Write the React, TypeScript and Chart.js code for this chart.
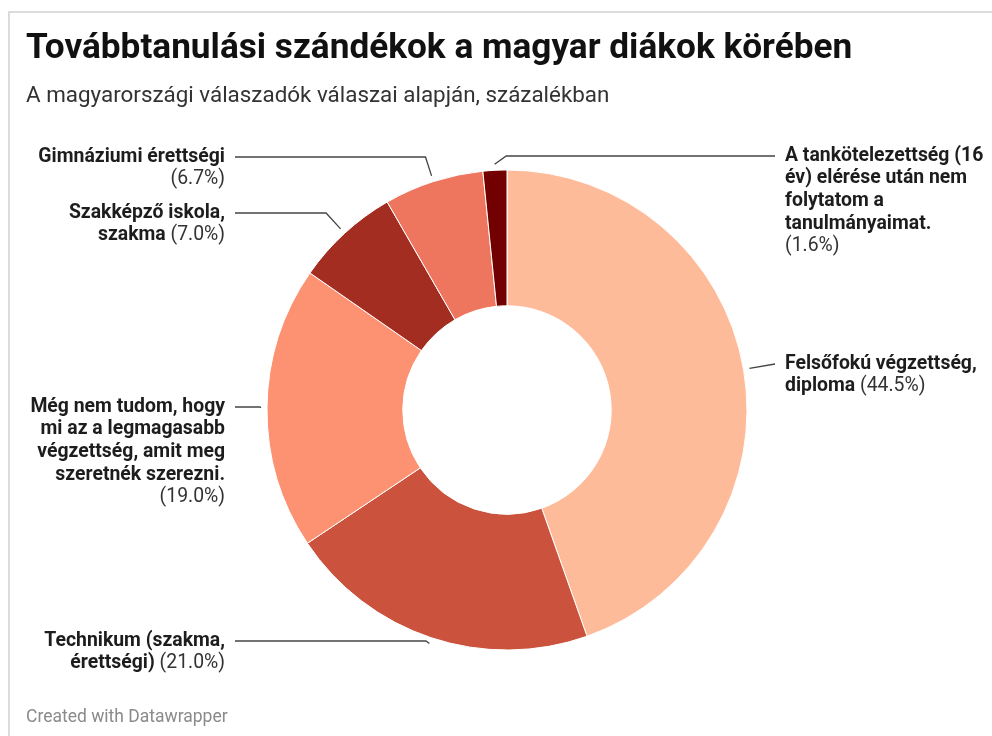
import React, { useEffect, useRef } from "react";
import { Chart, registerables } from "chart.js";

Chart.register(...registerables);

const categories = [
  "Felsőfokú végzettség, diploma",
  "Technikum (szakma, érettségi)",
  "Még nem tudom, hogy mi az a legmagasabb végzettség, amit meg szeretnék szerezni.",
  "Szakképző iskola, szakma",
  "Gimnáziumi érettségi",
  "A tankötelezettség (16 év) elérése után nem folytatom a tanulmányaimat.",
];
const values = [44.5, 21.0, 19.0, 7.0, 6.7, 1.6];
const colors = ["#febb9a", "#cb523d", "#fc9272", "#a32d20", "#ef765e", "#730000"];
// wrapped label lines (text only)
const labelLines = [
  ["Felsőfokú végzettség,", "diploma"],
  ["Technikum (szakma,", "érettségi)"],
  ["Még nem tudom, hogy", "mi az a legmagasabb", "végzettség, amit meg", "szeretnék szerezni."],
  ["Szakképző iskola,", "szakma"],
  ["Gimnáziumi érettségi"],
  ["A tankötelezettség (16", "év) elérése után nem", "folytatom a", "tanulmányaimat."],
];
const pctInline = [true, true, false, true, false, false];

// layout (positions)
const LABEL_SIDE = [1, -1, -1, -1, -1, 1];
const LABEL_Y = [364, 641, 407, 213, 157, 156];
const LEFT_TEXT_X = 225;
const RIGHT_TEXT_X = 785;
const LINE_GAP = 10;
const LINE_H = 22.6;
const LABEL_FONT = 19.4;
const FONT = "Roboto, sans-serif";

const labelPlugin = {
  id: "outLabels",
  afterDatasetsDraw(chart: any) {
    const ctx = chart.ctx;
    const meta = chart.getDatasetMeta(0);
    ctx.save();
    meta.data.forEach((arc: any, i: number) => {
      const { x, y, startAngle, endAngle, outerRadius } = arc.getProps(
        ["x", "y", "startAngle", "endAngle", "outerRadius"],
        true
      );
      const mid = (startAngle + endAngle) / 2;
      const ux = Math.cos(mid);
      const uy = Math.sin(mid);
      const px = x + (outerRadius + 6) * ux;
      const py = y + (outerRadius + 6) * uy;
      const side = LABEL_SIDE[i];
      const ly = LABEL_Y[i];
      const dy = ly - py;
      let kx: number;
      const t = Math.abs(uy) > 1e-6 ? dy / uy : Infinity;
      if (Math.sign(ux) === side && t > 0 && t < 40) {
        kx = px + t * ux;
      } else {
        kx = px + side * Math.abs(dy) * 1.4;
      }
      const endX = side < 0 ? LEFT_TEXT_X + LINE_GAP : RIGHT_TEXT_X - LINE_GAP;
      ctx.beginPath();
      ctx.strokeStyle = "#444";
      ctx.lineWidth = 1.3;
      ctx.moveTo(px, py);
      ctx.lineTo(kx, ly);
      ctx.lineTo(endX, ly);
      ctx.stroke();

      // text
      const pct = `(${values[i].toFixed(1)}%)`;
      const lines: { b: string; r: string }[] = labelLines[i].map((s) => ({ b: s, r: "" }));
      if (pctInline[i]) lines[lines.length - 1].r = " " + pct;
      else lines.push({ b: "", r: pct });
      ctx.textBaseline = "middle";
      ctx.textAlign = "left";
      const bf = `bold ${LABEL_FONT}px ${FONT}`;
      const rf = `${LABEL_FONT}px ${FONT}`;
      lines.forEach((ln, k) => {
        const yy = ly + k * LINE_H;
        ctx.font = bf;
        const bw = ln.b ? ctx.measureText(ln.b).width : 0;
        ctx.font = rf;
        const rw = ln.r ? ctx.measureText(ln.r).width : 0;
        let sx = side < 0 ? LEFT_TEXT_X - bw - rw : RIGHT_TEXT_X;
        if (ln.b) {
          ctx.font = bf;
          ctx.fillStyle = "#1d1d1d";
          ctx.fillText(ln.b, sx, yy);
        }
        if (ln.r) {
          ctx.font = rf;
          ctx.fillStyle = "#333";
          ctx.fillText(ln.r, sx + bw, yy);
        }
      });
    });
    ctx.restore();
  },
};

export default function App() {
  const ref = useRef<HTMLCanvasElement>(null);
  useEffect(() => {
    if (!ref.current) return;
    const chart = new Chart(ref.current, {
      type: "doughnut",
      data: {
        labels: categories,
        datasets: [
          {
            data: values,
            backgroundColor: colors,
            borderColor: "#ffffff",
            borderWidth: 1,
          },
        ],
      },
      options: {
        responsive: false,
        animation: false,
        radius: 240,
        cutout: 104,
        layout: { padding: { left: 267, right: 245, top: 170, bottom: 86 } },
        plugins: { legend: { display: false }, tooltip: { enabled: false } },
      } as any,
      plugins: [labelPlugin],
    });
    return () => chart.destroy();
  }, []);

  return (
    <div
      style={{
        position: "fixed",
        left: 0,
        top: 0,
        width: 992,
        height: 736,
        overflow: "hidden",
        background: "#fff",
        fontFamily: FONT,
      }}
    >
      <div
        style={{
          position: "absolute",
          left: 8,
          top: 11,
          width: 1200,
          height: 1000,
          borderLeft: "2px solid #dcdcdc",
          borderTop: "2px solid #dcdcdc",
        }}
      />
      <canvas
        ref={ref}
        width={992}
        height={736}
        style={{ position: "absolute", left: 0, top: 0, width: 992, height: 736 }}
      />
      <div
        style={{
          position: "absolute",
          left: 26,
          top: 28.6,
          fontSize: 35.2,
          lineHeight: "35px",
          fontWeight: 700,
          color: "#111",
          whiteSpace: "nowrap",
        }}
      >
        Továbbtanulási szándékok a magyar diákok körében
      </div>
      <div
        style={{
          position: "absolute",
          left: 26,
          top: 82.6,
          fontSize: 22.4,
          lineHeight: "22.4px",
          color: "#333",
          whiteSpace: "nowrap",
        }}
      >
        A magyarországi válaszadók válaszai alapján, százalékban
      </div>
      <div
        style={{
          position: "absolute",
          left: 26,
          top: 708,
          fontSize: 17.5,
          lineHeight: "17.5px",
          color: "#8a8a8a",
          whiteSpace: "nowrap",
        }}
      >
        Created with Datawrapper
      </div>
    </div>
  );
}
